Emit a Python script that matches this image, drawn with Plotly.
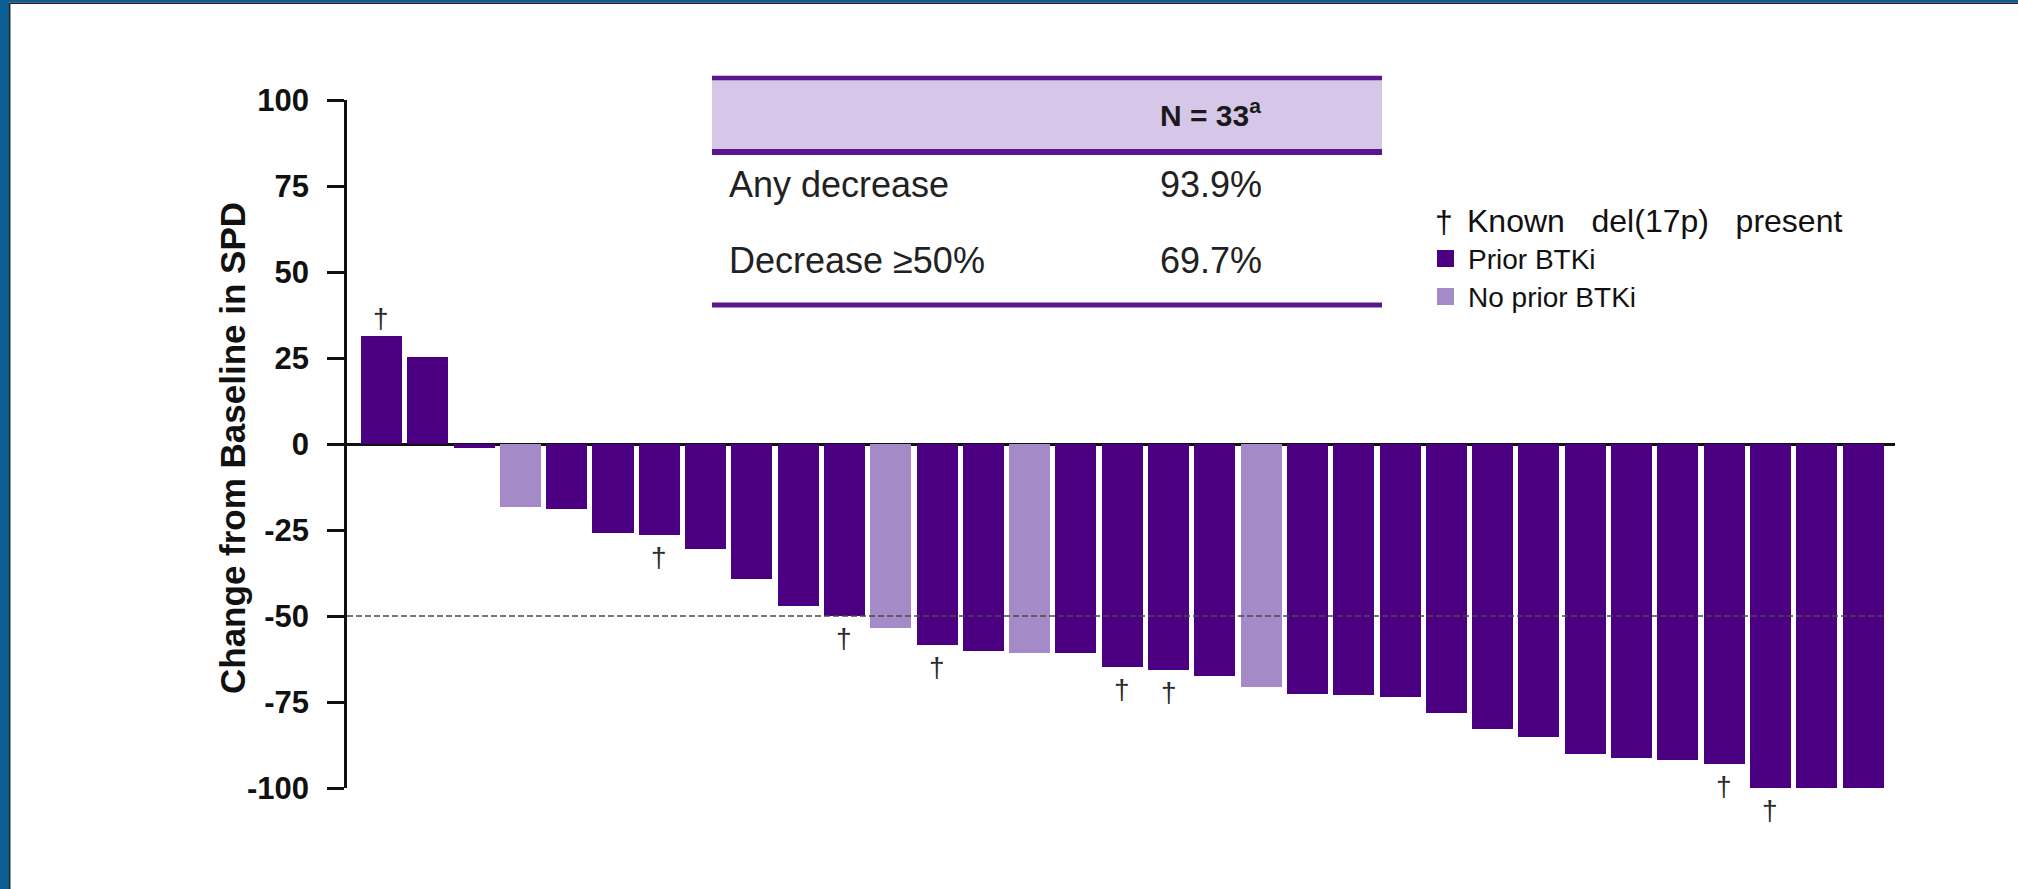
import plotly.graph_objects as go

# Best change from baseline in SPD for each patient, sorted
patients = list(range(1, 34))
change_pct = [31.3, 25.2, -1.2, -18.2, -19.0, -25.8, -26.4, -30.6, -39.2, -47.2,
              -50.0, -53.6, -58.5, -60.3, -60.8, -60.8, -64.9, -65.8, -67.5, -70.5,
              -72.8, -73.1, -73.6, -78.3, -82.9, -85.2, -90.2, -91.3, -91.8, -93.0,
              -100.0, -100.0, -100.0]
prior_btki = [True, True, True, False, True, True, True, True, True, True,
              True, False, True, True, False, True, True, True, True, False,
              True, True, True, True, True, True, True, True, True, True,
              True, True, True]
del17p = [True, False, False, False, False, False, True, False, False, False,
          True, False, True, False, False, False, True, True, False, False,
          False, False, False, False, False, False, False, False, False, True,
          True, False, False]

y_ticks = [100, 75, 50, 25, 0, -25, -50, -75, -100]
y_tick_labels = ["100", "75", "50", "25", "0", "-25", "-50", "-75", "-100"]
threshold = -50

table_header = "N = 33<sup>a</sup>"
table_rows = [["Any decrease", "93.9%"], ["Decrease \u226550%", "69.7%"]]
del17p_label = "Known\u00a0\u00a0\u00a0del(17p)\u00a0\u00a0\u00a0present"

DARK = "#4B0082"
LIGHT = "#A48BC7"
TABLE_LINE = "#5A168E"
TABLE_FILL = "#D6C7E9"
FRAME_BLUE = "#0B5D95"
FONT = "Liberation Sans, Arial, sans-serif"

W, H = 2018, 889
PL, PR, PT, PB = 347, 1895, 100, 788
BAR_W = 0.886


def fx(p):
    return (p - PL) / (PR - PL)


def fy(p):
    return (PB - p) / (PB - PT)


fig = go.Figure()

groups = [(True, "Prior BTKi", DARK), (False, "No prior BTKi", LIGHT)]
for flag, name, color in groups:
    xs = [i for i, p in enumerate(prior_btki) if p == flag]
    fig.add_trace(go.Bar(
        x=xs, y=[change_pct[i] for i in xs], name=name,
        marker=dict(color=color, line=dict(width=0)),
        width=BAR_W, showlegend=False,
        hovertext=[f"Patient {patients[i]}" for i in xs],
    ))

# daggers marking known del(17p)
for i, flag in enumerate(del17p):
    if not flag:
        continue
    v = change_pct[i]
    fig.add_annotation(
        x=i, y=v, xref="x", yref="y", text="\u2020", showarrow=False,
        font=dict(family=FONT, size=28, color="#2a2a2a"),
        yanchor="bottom" if v > 0 else "top",
        yshift=0 if v > 0 else -5,
    )

n = len(change_pct)
x_lo = -0.745
x_hi = n - 1 + 0.69

# 50% reduction reference line
fig.add_shape(type="line", xref="x", yref="y",
              x0=x_lo, x1=n - 1 + BAR_W / 2, y0=threshold, y1=threshold,
              line=dict(color="#4a4a4a", width=1.5, dash="6px,3px"), layer="above")

# outer frame: blue band on the left and top with a thin dark rule
fig.add_shape(type="rect", xref="paper", yref="paper",
              x0=fx(0), x1=fx(9), y0=fy(H), y1=fy(0),
              fillcolor=FRAME_BLUE, line=dict(width=0))
fig.add_shape(type="rect", xref="paper", yref="paper",
              x0=fx(0), x1=fx(W), y0=fy(2.5), y1=fy(0),
              fillcolor=FRAME_BLUE, line=dict(width=0))
fig.add_shape(type="line", xref="paper", yref="paper",
              x0=fx(9.7), x1=fx(9.7), y0=fy(H), y1=fy(3),
              line=dict(color="#222222", width=1.5))
fig.add_shape(type="line", xref="paper", yref="paper",
              x0=fx(9.7), x1=fx(W), y0=fy(3.2), y1=fy(3.2),
              line=dict(color="#222222", width=1.5))

# summary table
tx0, tx1 = 712, 1382
fig.add_shape(type="rect", xref="paper", yref="paper",
              x0=fx(tx0), x1=fx(tx1), y0=fy(152), y1=fy(77),
              fillcolor=TABLE_FILL, line=dict(width=0))
for py, lw in [(78, 4.5), (152, 6), (305, 5)]:
    fig.add_shape(type="line", xref="paper", yref="paper",
                  x0=fx(tx0), x1=fx(tx1), y0=fy(py), y1=fy(py),
                  line=dict(color=TABLE_LINE, width=lw))

col_x = [727, 1158]
fig.add_annotation(xref="paper", yref="paper", x=fx(col_x[1]), y=fy(113),
                   text=f"<b>{table_header}</b>", showarrow=False,
                   xanchor="left", yanchor="middle",
                   font=dict(family=FONT, size=30, color="#1a1a1a"))
for row, py in zip(table_rows, [184, 260]):
    for txt, px in zip(row, col_x):
        fig.add_annotation(xref="paper", yref="paper", x=fx(px), y=fy(py),
                           text=txt, showarrow=False, xanchor="left", yanchor="middle",
                           font=dict(family=FONT, size=36, color="#222222"))

# legend
fig.add_annotation(xref="paper", yref="paper", x=fx(1444), y=fy(222),
                   text="\u2020", showarrow=False, xanchor="center", yanchor="middle",
                   font=dict(family=FONT, size=32, color="#111111"))
fig.add_annotation(xref="paper", yref="paper", x=fx(1465), y=fy(221),
                   text=del17p_label, showarrow=False, xanchor="left", yanchor="middle",
                   font=dict(family=FONT, size=32, color="#111111"))
for (flag, name, color), py in zip(groups, [259, 297]):
    fig.add_shape(type="rect", xref="paper", yref="paper",
                  x0=fx(1437), x1=fx(1454), y0=fy(py + 8), y1=fy(py - 9),
                  fillcolor=color, line=dict(width=0))
    fig.add_annotation(xref="paper", yref="paper", x=fx(1466), y=fy(py),
                       text=name, showarrow=False, xanchor="left", yanchor="middle",
                       font=dict(family=FONT, size=28, color="#111111"))

# vertical axis title
fig.add_annotation(xref="paper", yref="paper", x=fx(232), y=fy(448),
                   text="<b>Change from Baseline in SPD</b>", textangle=-90,
                   showarrow=False, xanchor="center", yanchor="middle",
                   font=dict(family=FONT, size=35, color="#111111"))

fig.update_layout(
    width=W, height=H,
    margin=dict(l=PL, r=W - PR, t=PT, b=H - PB, pad=0),
    paper_bgcolor="white", plot_bgcolor="white",
    bargap=0, barmode="overlay",
    xaxis=dict(range=[x_lo, x_hi], visible=False, fixedrange=True),
    yaxis=dict(
        range=[-100, 100], tickvals=y_ticks, ticktext=y_tick_labels,
        showgrid=False, zeroline=True, zerolinecolor="#111111", zerolinewidth=2.5,
        showline=True, linecolor="#111111", linewidth=2.5,
        ticks="outside", ticklen=17, tickwidth=2.5, tickcolor="#111111",
        ticklabelstandoff=12,
        tickfont=dict(family=FONT, size=31, color="#111111", weight="bold"),
        fixedrange=True,
    ),
    showlegend=False,
)

fig.write_html("out.html")
